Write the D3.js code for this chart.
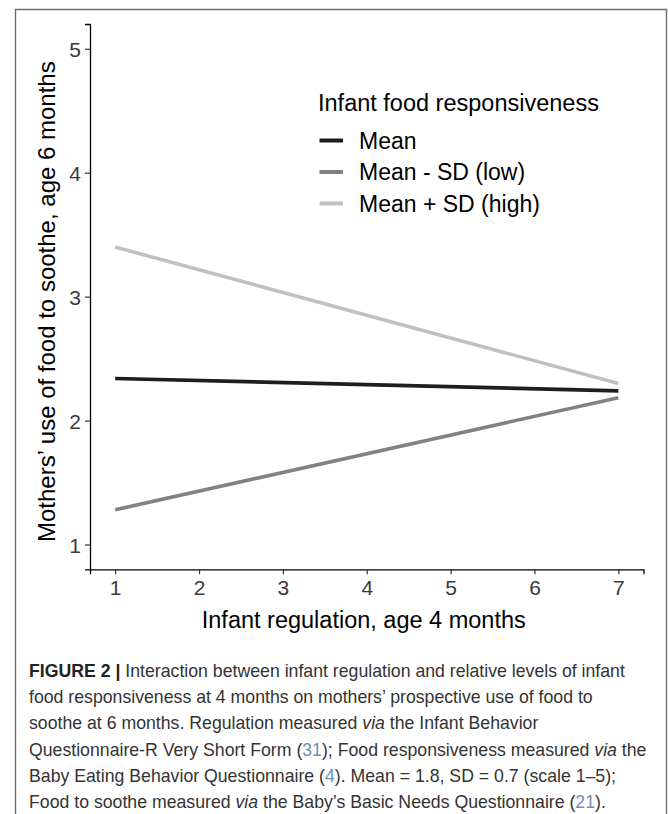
<!DOCTYPE html>
<html>
<head>
<meta charset="utf-8">
<script src="https://cdn.jsdelivr.net/npm/d3@7/dist/d3.min.js"></script>
<style>
  html, body { margin: 0; padding: 0; background: #fff; }
  svg { display: block; }
</style>
</head>
<body>
<svg id="chart" width="668" height="814"></svg>
<script>
// ---- data ----
const xValues = [1, 7];
const seriesNames = ["Mean", "Mean - SD (low)", "Mean + SD (high)"];
const meanValues = [2.34, 2.24];
const lowValues = [1.28, 2.185];
const highValues = [3.40, 2.30];
const seriesColors = ["#1e1e1e", "#828282", "#c0c0c0"];
const xTicks = [1, 2, 3, 4, 5, 6, 7];
const yTicks = [1, 2, 3, 4, 5];
const legendTitle = "Infant food responsiveness";
const xTitle = "Infant regulation, age 4 months";
const yTitle = "Mothers\u2019 use of food to soothe, age 6 months";

const captionLines = [
  [{t: "FIGURE 2 |", b: true}, {t: " Interaction between infant regulation and relative levels of infant"}],
  [{t: "food responsiveness at 4 months on mothers\u2019 prospective use of food to"}],
  [{t: "soothe at 6 months. Regulation measured "}, {t: "via", i: true}, {t: " the Infant Behavior"}],
  [{t: "Questionnaire-R Very Short Form ("}, {t: "31", c: true}, {t: "); Food responsiveness measured "}, {t: "via", i: true}, {t: " the"}],
  [{t: "Baby Eating Behavior Questionnaire ("}, {t: "4", c: true}, {t: "). Mean = 1.8, SD = 0.7 (scale 1\u20135);"}],
  [{t: "Food to soothe measured "}, {t: "via", i: true}, {t: " the Baby\u2019s Basic Needs Questionnaire ("}, {t: "21", c: true}, {t: ")."}]
];

const series = [meanValues, lowValues, highValues].map((vals, k) => ({
  name: seriesNames[k],
  color: seriesColors[k],
  points: xValues.map((x, j) => ({x: x, y: vals[j]}))
}));

// ---- layout ----
const svg = d3.select("#chart");
const font = "'Liberation Sans', Arial, Helvetica, sans-serif";
const panel = {left: 90, right: 643.5, top: 24, bottom: 569.3};

// frame
svg.append("path")
  .attr("d", `M15.5,830 V9.5 H666.5 V830`)
  .attr("fill", "none").attr("stroke", "#6e6e6e").attr("stroke-width", 1.4);

const x = d3.scaleLinear().domain([0.7, 7.3]).range([panel.left, panel.right]);
const y = d3.scaleLinear().domain([0.8, 5.2]).range([panel.bottom, panel.top]);

// axes
const xAxis = svg.append("g")
  .attr("transform", `translate(0,${panel.bottom})`)
  .call(d3.axisBottom(x).tickValues(xTicks).tickFormat(d3.format("d")).tickSize(5).tickPadding(6));
const yAxis = svg.append("g")
  .attr("transform", `translate(${panel.left},0)`)
  .call(d3.axisLeft(y).tickValues(yTicks).tickFormat(d3.format("d")).tickSize(5).tickPadding(4));

[xAxis, yAxis].forEach(g => {
  g.select(".domain").attr("stroke", "#000").attr("stroke-width", 1.3);
  g.selectAll(".tick line").attr("stroke", "#333").attr("stroke-width", 1.2);
  g.selectAll(".tick text")
    .attr("fill", "#3a3a3a")
    .style("font-family", font)
    .style("font-size", "21px");
});
xAxis.selectAll(".tick text").attr("dy", "0.72em");
yAxis.selectAll(".tick text").attr("dy", "0.36em");

// lines
const line = d3.line().x(d => x(d.x)).y(d => y(d.y));
svg.append("g").selectAll("path")
  .data(series)
  .join("path")
  .attr("d", d => line(d.points))
  .attr("fill", "none")
  .attr("stroke", d => d.color)
  .attr("stroke-width", 3.6);

// axis titles
svg.append("text")
  .attr("x", (panel.left + panel.right) / 2 - 3)
  .attr("y", 628)
  .attr("text-anchor", "middle")
  .style("font-family", font).style("font-size", "23.5px")
  .attr("fill", "#000")
  .text(xTitle);

svg.append("text")
  .attr("transform", `translate(55,${(panel.top + panel.bottom) / 2 + 5}) rotate(-90)`)
  .attr("text-anchor", "middle")
  .style("font-family", font).style("font-size", "24px")
  .attr("fill", "#000")
  .text(yTitle);

// legend
const legend = svg.append("g");
legend.append("text")
  .attr("x", 318).attr("y", 111)
  .style("font-family", font).style("font-size", "23.5px")
  .attr("fill", "#000")
  .text(legendTitle);
const legendY = [140.5, 172, 203.5];
const items = legend.selectAll("g.item")
  .data(series)
  .join("g")
  .attr("class", "item")
  .attr("transform", (d, k) => `translate(0,${legendY[k]})`);
items.append("line")
  .attr("x1", 319.5).attr("x2", 343)
  .attr("stroke", d => d.color).attr("stroke-width", 4);
items.append("text")
  .attr("x", 359).attr("y", 8.3)
  .style("font-family", font).style("font-size", "23px")
  .attr("fill", "#000")
  .text(d => d.name);

// caption
const cap = svg.append("g");
captionLines.forEach((parts, k) => {
  const t = cap.append("text")
    .attr("x", 29).attr("y", 677 + k * 26.2)
    .style("font-family", font).style("font-size", "17.7px")
    .attr("fill", "#333");
  parts.forEach(p => {
    const s = t.append("tspan").text(p.t);
    if (p.b) s.style("font-weight", "bold").attr("fill", "#222");
    if (p.i) s.style("font-style", "italic");
    if (p.c) s.attr("fill", "#6f8fb5");
  });
});
</script>
</body>
</html>
